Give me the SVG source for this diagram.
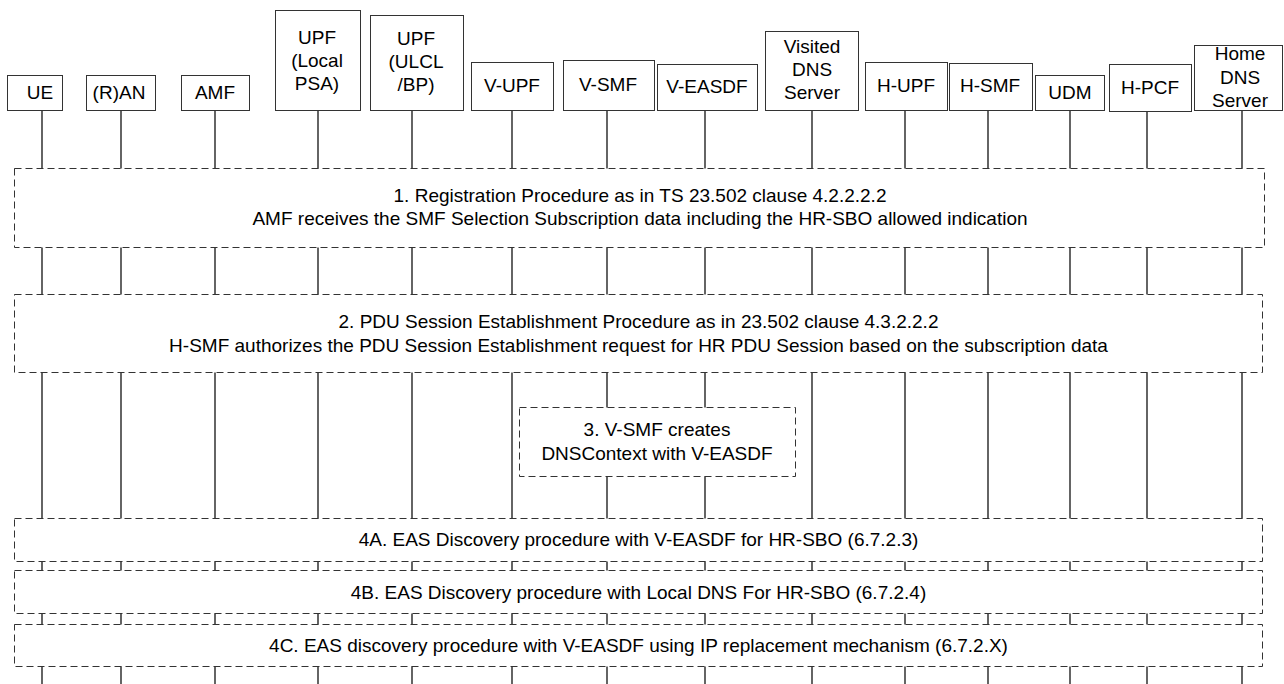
<svg xmlns="http://www.w3.org/2000/svg" width="1284" height="684" viewBox="0 0 1284 684">
<style>
.bg{fill:#fff}
.hb{fill:#fff;stroke:#333;stroke-width:1}
.db{fill:#fff;stroke:#333;stroke-width:1;stroke-dasharray:7,4}
.ll{stroke:#111;stroke-width:1.3;fill:none}
text{font-family:"Liberation Sans",Arial,sans-serif;font-size:19px;fill:#000;text-anchor:middle}
</style>
<rect class="bg" x="0" y="0" width="1284" height="684"/>
<g id="connectors">
<line class="ll" x1="42" y1="110" x2="42" y2="684"/>
<line class="ll" x1="121" y1="110" x2="121" y2="684"/>
<line class="ll" x1="215" y1="110" x2="215" y2="684"/>
<line class="ll" x1="318" y1="110" x2="318" y2="684"/>
<line class="ll" x1="412" y1="110" x2="412" y2="684"/>
<line class="ll" x1="512" y1="110" x2="512" y2="684"/>
<line class="ll" x1="607" y1="110" x2="607" y2="684"/>
<line class="ll" x1="705" y1="110" x2="705" y2="684"/>
<line class="ll" x1="812" y1="110" x2="812" y2="684"/>
<line class="ll" x1="905" y1="110" x2="905" y2="684"/>
<line class="ll" x1="988" y1="110" x2="988" y2="684"/>
<line class="ll" x1="1070" y1="110" x2="1070" y2="684"/>
<line class="ll" x1="1147" y1="110" x2="1147" y2="684"/>
<line class="ll" x1="1242" y1="110" x2="1242" y2="684"/>
</g>
<g id="ue"><rect class="hb" x="7.5" y="75.5" width="55" height="35"/><text x="40" y="99">UE</text></g>
<g id="ran"><rect class="hb" x="86.5" y="75.5" width="69" height="35"/><text x="119" y="99">(R)AN</text></g>
<g id="amf"><rect class="hb" x="181.5" y="75.5" width="68" height="35"/><text x="215" y="99">AMF</text></g>
<g id="upf-local"><rect class="hb" x="275.5" y="10.5" width="85" height="100"/><text x="317" y="44">UPF</text><text x="317" y="67">(Local</text><text x="317" y="90">PSA)</text></g>
<g id="upf-ulcl"><rect class="hb" x="370.5" y="15.5" width="93" height="95"/><text x="416" y="45">UPF</text><text x="416" y="68">(ULCL</text><text x="416" y="91">/BP)</text></g>
<g id="v-upf"><rect class="hb" x="471.5" y="62.5" width="82" height="48"/><text x="512" y="92">V-UPF</text></g>
<g id="v-smf"><rect class="hb" x="563.5" y="60.5" width="91" height="50"/><text x="608" y="91">V-SMF</text></g>
<g id="v-easdf"><rect class="hb" x="657.5" y="64.5" width="100" height="46"/><text x="707" y="93">V-EASDF</text></g>
<g id="visited-dns"><rect class="hb" x="765.5" y="31.5" width="93" height="79"/><text x="812" y="53">Visited</text><text x="812" y="76">DNS</text><text x="812" y="99">Server</text></g>
<g id="h-upf"><rect class="hb" x="865.5" y="62.5" width="82" height="48"/><text x="906" y="92">H-UPF</text></g>
<g id="h-smf"><rect class="hb" x="949.5" y="63.5" width="83" height="47"/><text x="990" y="92">H-SMF</text></g>
<g id="udm"><rect class="hb" x="1035.5" y="75.5" width="69" height="35"/><text x="1070" y="99">UDM</text></g>
<g id="h-pcf"><rect class="hb" x="1109.5" y="64.5" width="82" height="47"/><text x="1150" y="94">H-PCF</text></g>
<g id="home-dns"><rect class="hb" x="1194.5" y="45.5" width="88" height="65"/><text x="1240" y="60">Home</text><text x="1240" y="83.5">DNS</text><text x="1240" y="107">Server</text></g>
<g id="step1"><rect class="db" x="14.5" y="168.5" width="1250" height="79"/><text x="640" y="202">1. Registration Procedure as in TS 23.502 clause 4.2.2.2.2</text><text x="640" y="225">AMF receives the SMF Selection Subscription data including the HR-SBO allowed indication</text></g>
<g id="step2"><rect class="db" x="14.5" y="294.5" width="1248" height="78"/><text x="638.5" y="328">2. PDU Session Establishment Procedure as in 23.502 clause 4.3.2.2.2</text><text x="638.5" y="352">H-SMF authorizes the PDU Session Establishment request for HR PDU Session based on the subscription data</text></g>
<g id="step3"><rect class="db" x="519.5" y="407.5" width="276" height="69"/><text x="657" y="436">3. V-SMF creates</text><text x="657" y="460">DNSContext with V-EASDF</text></g>
<g id="step4a"><rect class="db" x="14.5" y="518.5" width="1248" height="43"/><text x="638.5" y="546">4A. EAS Discovery procedure with V-EASDF for HR-SBO (6.7.2.3)</text></g>
<g id="step4b"><rect class="db" x="14.5" y="570.5" width="1248" height="43"/><text x="638.5" y="599">4B. EAS Discovery procedure with Local DNS For HR-SBO (6.7.2.4)</text></g>
<g id="step4c"><rect class="db" x="14.5" y="624.5" width="1248" height="42"/><text x="638.5" y="652">4C. EAS discovery procedure with V-EASDF using IP replacement mechanism (6.7.2.X)</text></g>
</svg>
